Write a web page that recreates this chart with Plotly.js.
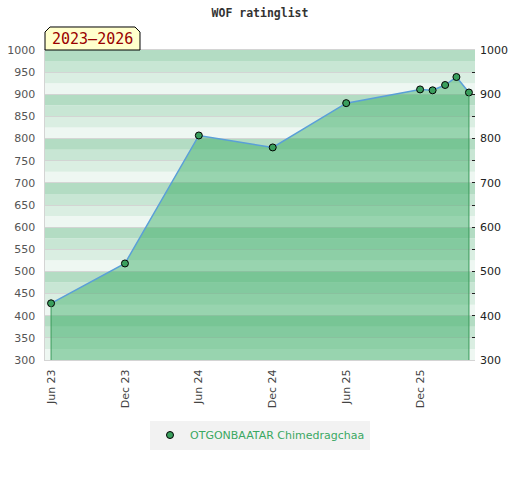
<!DOCTYPE html>
<html>
<head>
<meta charset="utf-8">
<script src="https://cdn.plot.ly/plotly-3.0.1.min.js"></script>
<style>html,body{margin:0;padding:0;background:#fff;}#chart{width:520px;height:480px;}</style>
</head>
<body>
<div id="chart"></div>
<script>
// Data
var dates = ["2023-06-01","2023-12-01","2024-06-01","2024-12-01","2025-06-01","2025-12-01","2026-01-01","2026-02-01","2026-03-01","2026-04-01"];
var ratings = [428, 518, 807, 780, 880, 911, 909, 921, 939, 904];
var playerName = "OTGONBAATAR Chimedragchaa";
var periodLabel = "2023\u20132026";
var chartTitle = "WOF ratinglist";
var yMin = 300, yMax = 1000;

// striped background (styling)
var stripeColors = ["#eef7f2", "#daeee2", "#c8e6d4", "#b3dcc3"]; // from bottom of each 100 block upward
var shapes = [];
for (var v = yMin; v < yMax; v += 25) {
  var idx = ((v % 100) / 25);
  shapes.push({type:'rect', xref:'paper', yref:'y', x0:0, x1:1, y0:v, y1:v+25,
    fillcolor: stripeColors[idx], line:{width:0}, layer:'below'});
}
// badge
shapes.push({type:'path', xref:'paper', yref:'paper',
  path:'M 0 1 L 0 1.058 L 0.0116 1.0742 L 0.2093 1.0742 L 0.2209 1.058 L 0.2209 1 Z',
  fillcolor:'#ffffcc', line:{color:'#000', width:1}, layer:'above'});

var n = dates.length;
var traces = [
  {x: dates, y: ratings, type:'scatter', mode:'lines', fill:'tozeroy',
   fillcolor:'rgba(50,170,95,0.46)', line:{color:'#5a9fd8', width:1.5}, showlegend:false, hoverinfo:'skip'},
  {x:[dates[0], dates[0], null, dates[n-1], dates[n-1]], y:[yMin, ratings[0], null, yMin, ratings[n-1]],
   type:'scatter', mode:'lines', line:{color:'#3a9a5a', width:1}, showlegend:false, hoverinfo:'skip', yaxis:'y2'},
  {x: dates, y: ratings, type:'scatter', mode:'markers', name: playerName,
   marker:{color:'#3a9f5d', size:7, line:{color:'#000', width:1}}}
];

var layout = {
  width:520, height:480,
  margin:{l:45, r:45, t:50, b:120},
  paper_bgcolor:'#fff', plot_bgcolor:'rgba(0,0,0,0)',
  title:{text: chartTitle, x:0.5, xanchor:'center', y:0.973, yanchor:'middle',
    font:{family:'DejaVu Sans Mono', size:11.5, color:'#333', weight:'bold'}},
  font:{family:'DejaVu Sans', size:11, color:'#444'},
  xaxis:{type:'date', range:['2023-05-17','2026-04-16'], tick0:'2023-06-01', dtick:'M6',
    tickformat:'%b %y', tickangle:-90, showgrid:false, zeroline:false,
    showline:true, linecolor:'#d4d4d4', linewidth:1, mirror:true, ticks:'', ticklabelstandoff:4,
    tickfont:{family:'DejaVu Sans', size:11, color:'#444'}},
  yaxis:{range:[yMin, yMax], dtick:50, showgrid:true, gridcolor:'rgba(210,210,210,0.9)', gridwidth:1,
    zeroline:false, showline:true, linecolor:'#d4d4d4', linewidth:1.5, ticks:'', ticklabelstandoff:6,
    tickfont:{family:'DejaVu Sans', size:11, color:'#555'}},
  yaxis2:{range:[yMin, yMax], overlaying:'y', side:'right', dtick:100, showgrid:false, zeroline:false,
    ticks:'inside', ticklen:3, tickcolor:'#222', ticklabelstandoff:4,
    minor:{dtick:50, ticks:'inside', ticklen:3, tickcolor:'#222'},
    tickfont:{family:'DejaVu Sans', size:11, color:'#222'}},
  shapes: shapes,
  annotations:[{xref:'paper', yref:'paper', x:0.1105, y:1.037, xanchor:'center', yanchor:'middle',
    text: periodLabel, showarrow:false, font:{family:'DejaVu Sans Mono', size:15, color:'#990000'}}],
  showlegend:true,
  legend:{orientation:'h', x:0.5, xanchor:'center', y:-0.242, yanchor:'middle',
    bgcolor:'#f2f2f2', font:{family:'DejaVu Sans', size:11, color:'#3aa862'}}
};

Plotly.newPlot('chart', traces, layout, {displayModeBar:false, staticPlot:true});
</script>
</body>
</html>
